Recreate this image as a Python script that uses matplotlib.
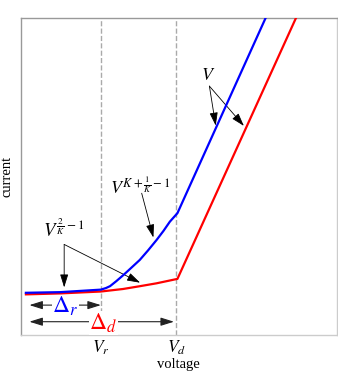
import numpy as np
import matplotlib
matplotlib.use("Agg")
import matplotlib.pyplot as plt

plt.rcParams['font.family'] = ['Liberation Serif', 'DejaVu Serif']
plt.rcParams['mathtext.fontset'] = 'stix'

# curve points (arbitrary units, axes span 0..100)
v_blue = [1.7, 12.5, 25.4, 27.0, 28.3, 30.3, 32.5, 35.0, 37.7, 40.3, 43.0, 45.2, 47.2, 49.6, 77.4]
i_blue = [13.2, 13.4, 14.2, 14.7, 15.3, 16.9, 18.8, 21.1, 23.6, 26.6, 29.9, 32.8, 35.7, 38.4, 100.0]
v_red = [1.7, 12.5, 25.4, 32.4, 37.8, 43.0, 49.6, 87.0]
i_red = [12.7, 13.0, 13.6, 14.4, 15.3, 16.2, 17.6, 100.0]

v_r = 25.4
v_d = 49.2
tick_labels = [r'$V_r$', r'$V_d$']

fig = plt.figure(figsize=(3.38, 3.74), dpi=100)
ax = fig.add_axes([0.0607, 0.1056, 0.936, 0.845])
ax.set_xlim(0, 100)
ax.set_ylim(0, 100)

for s in ['left', 'top']:
    ax.spines[s].set_color('#999999')
for s in ['right', 'bottom']:
    ax.spines[s].set_color('#cccccc')
for s in ax.spines.values():
    s.set_linewidth(1.0)

ax.axvline(v_r, color='#aaaaaa', ls='--', lw=1.0, zorder=1)
ax.axvline(v_d, color='#aaaaaa', ls='--', lw=1.0, zorder=1)

ax.plot(v_red, i_red, color='red', lw=1.6, zorder=3)
ax.plot(v_blue, i_blue, color='blue', lw=1.6, zorder=4)

ax.set_xticks([v_r, v_d])
ax.set_xticklabels(tick_labels, fontsize=12.5)
ax.set_yticks([])
ax.tick_params(axis='x', length=0, pad=3)
ax.set_xlabel('voltage', fontsize=10.5, labelpad=1)
ax.set_ylabel('current', fontsize=10.5, labelpad=5)

arr = dict(arrowstyle='-|>,head_length=0.8,head_width=0.25', color='black',
           lw=0.6, mutation_scale=10, shrinkA=0, shrinkB=0)

# V -> both linear parts
ax.text(59.2, 82.0, r'$V$', fontsize=13, ha='center', va='center')
ax.annotate('', xy=(61.7, 66.1), xytext=(59.7, 78.6), arrowprops=arr)
ax.annotate('', xy=(70.6, 66.0), xytext=(59.7, 78.6), arrowprops=arr)

# blue power law
ax.text(37.9, 46.6, r'$V^{K+\frac{1}{K}-1}$', fontsize=13, ha='center', va='center')
ax.annotate('', xy=(42.0, 30.7), xytext=(38.3, 44.7), arrowprops=arr)

# low-voltage power law
ax.text(13.7, 33.3, r'$V^{\frac{2}{K}-1}$', fontsize=13.5, ha='center', va='center')
ax.annotate('', xy=(13.8, 14.9), xytext=(13.8, 28.5), arrowprops=arr)
ax.annotate('', xy=(37.8, 16.4), xytext=(13.8, 28.5), arrowprops=arr)

# widths
darr = dict(arrowstyle='<|-|>,head_length=0.8,head_width=0.25', color='#222222',
            lw=0.8, mutation_scale=10, shrinkA=0, shrinkB=0)
ax.annotate('', xy=(2.8, 9.3), xytext=(v_r, 9.3), arrowprops=darr)
ax.annotate('', xy=(2.8, 4.05), xytext=(48.5, 4.05), arrowprops=darr)
ax.text(14.1, 8.8, r'$\Delta_r$', color='blue', fontsize=17, ha='center', va='center',
        bbox=dict(facecolor='white', edgecolor='none', pad=0.3), zorder=5)
ax.text(26.2, 3.6, r'$\Delta_d$', color='red', fontsize=17, ha='center', va='center',
        bbox=dict(facecolor='white', edgecolor='none', pad=0.3), zorder=5)

fig.savefig('out.png', dpi=100, facecolor='w')
